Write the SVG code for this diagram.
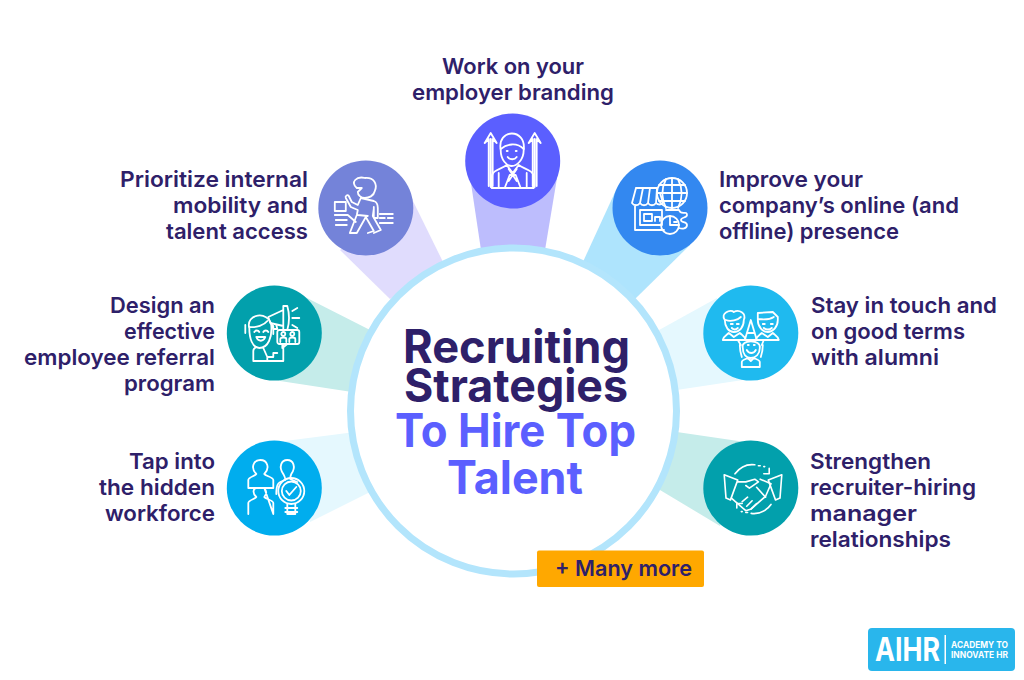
<svg xmlns="http://www.w3.org/2000/svg" width="1024" height="680" viewBox="0 0 1024 680">
<style>
text{font-family:"Inter","Noto Sans","Liberation Sans",sans-serif}
.l{font-size:22px;font-weight:600;fill:#2e2069}
.e{text-anchor:end}
.m{text-anchor:middle}
.t{font-size:46px;font-weight:700;text-anchor:middle}
.i{fill:none;stroke:#fff;stroke-width:1.8;stroke-linejoin:round;stroke-linecap:round}
</style>
<rect width="1024" height="680" fill="#fff"/>
<g id="connectors">
<polygon points="469,170 481,250 545,250 557,178" fill="#bdbdfd"/>
<polygon points="410,195 444,264 390,299 340,250" fill="#e0dcfd"/>
<polygon points="616,190 582,264 635,299 690,245" fill="#aee4fd"/>
<polygon points="305,297 372,331 352,392 280,381" fill="#c5ecea"/>
<polygon points="285,441 355,432 372,491 310,522" fill="#e5f8fe"/>
<polygon points="717,298 650,335 670,391 743,380" fill="#e5f8fe"/>
<polygon points="745,442 670,431 650,484 720,526" fill="#c5ecea"/>
</g>
<g id="center">
<circle cx="513.5" cy="411" r="163" fill="#fff" stroke="#b3e5fc" stroke-width="7"/>
<text class="t" x="516.500" y="363" fill="#2e2069" textLength="227" lengthAdjust="spacingAndGlyphs">Recruiting</text>
<text class="t" x="516" y="402" fill="#2e2069" textLength="224" lengthAdjust="spacingAndGlyphs">Strategies</text>
<text class="t" x="515.500" y="447" fill="#5b5fff" textLength="241" lengthAdjust="spacingAndGlyphs">To Hire Top</text>
<text class="t" x="515" y="494" fill="#5b5fff" textLength="136" lengthAdjust="spacingAndGlyphs">Talent</text>
</g>
<g id="node-top">
<text class="l m" x="513" y="74" textLength="142" lengthAdjust="spacingAndGlyphs">Work on your</text>
<text class="l m" x="513" y="100" textLength="202" lengthAdjust="spacingAndGlyphs">employer branding</text>
<circle cx="512.700" cy="161" r="47.500" fill="#5b5fff"/>
<g class="i" transform="translate(512.700,161)">
<path d="M-22,-22V26M-28,-18L-24,-22V25M-28,-18L-22,-28L-16,-18L-20,-22V25M22,-22V26M16,-18L20,-22V25M16,-18L22,-28L28,-18L24,-22V25"/>
<path d="M-12,-11C-16,-33 14,-33 11,-11C11,-1 4,5 -1,5C-6,5 -12,-1 -12,-11Z"/>
<path d="M-12,-12C-6,-17 4,-19 11,-12M-5,-4C-3,-1 2,-1 4,-4M-6,-10H-5M3,-10H4"/>
<path d="M-21,27V16C-21,9 -11,8 -6,4L0,12L6,4C11,8 21,9 21,16V27ZM-8,27L-3,14H3L8,27M-4,8L4,20M4,8L-4,20M-14,12V27M14,12V27"/>
</g>
</g>
<g id="node-internal">
<text class="l e" x="308" y="187" textLength="188" lengthAdjust="spacingAndGlyphs">Prioritize internal</text>
<text class="l e" x="308" y="213" textLength="135" lengthAdjust="spacingAndGlyphs">mobility and</text>
<text class="l e" x="308" y="239" textLength="142" lengthAdjust="spacingAndGlyphs">talent access</text>
<circle cx="365.800" cy="208" r="47.500" fill="#7483d9"/>
<g class="i" transform="translate(365.800,208)">
<path d="M-9,-20C-16,-26 -9,-32 -1,-30C8,-31 12,-24 9,-17C8,-12 3,-10 -1,-10C-5,-10 -8,-13 -8,-16L-4,-20Z"/>
<path d="M-5,-10L-8,-3L-14,-6L-17,-12C-18,-14 -21,-12 -20,-10L-15,-1L-8,2L-9,7L-16,25H-9L0,9L8,23L2,25M-5,-10L8,-7C11,-6 12,-3 12,0V10H8V-1M-8,7L2,8M8,1L7,8L15,22L8,25"/>
<rect x="-31" y="-6" width="11" height="9"/>
<path d="M-31,7H-18L-10,14M-30,12H-19M-30,17H-19M14,6H27M14,10H19M22,10H27M14,15H27"/>
</g>
</g>
<g id="node-online">
<text class="l" x="719" y="187" textLength="144" lengthAdjust="spacingAndGlyphs">Improve your</text>
<text class="l" x="719" y="213" textLength="240" lengthAdjust="spacingAndGlyphs">company’s online (and</text>
<text class="l" x="719" y="239" textLength="180" lengthAdjust="spacingAndGlyphs">offline) presence</text>
<circle cx="660" cy="208" r="47.500" fill="#3388f0"/>
<g class="i" transform="translate(660,208)">
<circle cx="12" cy="-15" r="15"/>
<path d="M-3,-15H27M-1,-23H25M-1,-7H25M12,-30V0M6,-29C1,-19 1,-10 6,0M18,-29C23,-19 23,-10 18,0"/>
<path d="M-24,-20H-3M-24,-20L-28,-5C-26,-2 -22,-2 -20,-5C-18,-2 -14,-2 -12,-5C-10,-2 -6,-2 -4,-5C-2,-3 1,-3 3,-5L0,-15M-17,-20L-20,-5M-10,-20L-12,-5M-3,-20L-4,-5M-25,-3V22H4M-20,2V17H2V2ZM-16,13V6H-8V13ZM-5,13V9H0V13"/>
<circle cx="10" cy="17" r="9"/>
<path d="M10,8V17H19M14,14H17M6,2H19C21,8 27,2 27,7C27,10 21,9 21,12C21,15 27,13 27,17C27,21 22,21 19,20"/>
</g>
</g>
<g id="node-referral">
<text class="l e" x="215" y="313" textLength="105" lengthAdjust="spacingAndGlyphs">Design an</text>
<text class="l e" x="215" y="339" textLength="91" lengthAdjust="spacingAndGlyphs">effective</text>
<text class="l e" x="215" y="365" textLength="191" lengthAdjust="spacingAndGlyphs">employee referral</text>
<text class="l e" x="215" y="391" textLength="91" lengthAdjust="spacingAndGlyphs">program</text>
<circle cx="274.300" cy="333" r="47.500" fill="#02a0ac"/>
<g class="i" transform="translate(274.300,333)">
<path d="M-25,-5C-29,-19 -6,-23 -3,-8C-2,4 -6,15 -15,15C-22,15 -25,5 -25,-5Z"/>
<path d="M-25,-6C-18,-5 -10,-8 -7,-12M-20,-1C-19,-3 -16,-3 -15,-1M-11,-1C-10,-3 -7,-3 -6,-1M-18,4C-16,9 -11,9 -9,4H-18ZM-29,-8V0M-1,-7V1"/>
<path d="M-21,28V18C-21,16 -20,15 -18,14M-21,28H9V11M-11,15L-7,24V28M-7,24H-1V20H3"/>
<path d="M-6,-16L9,-23V-7L-4,-10ZM9,-27H13C15,-20 15,-10 13,-3H9ZM-3,-10L-1,-4H3L2,-8M18,-15H25M18,-22L23,-25M18,-8L23,-5"/>
<rect x="3" y="-3" width="22" height="14" rx="2"/>
<path d="M6,9V6C6,4 12,4 12,6V9M15,9V6C15,4 21,4 21,6V9"/><circle cx="9" cy="1" r="2"/><circle cx="18" cy="1" r="2"/><path d="M8,11V15L13,11"/>
</g>
</g>
<g id="node-alumni">
<text class="l" x="811" y="313" textLength="186" lengthAdjust="spacingAndGlyphs">Stay in touch and</text>
<text class="l" x="811" y="339" textLength="154" lengthAdjust="spacingAndGlyphs">on good terms</text>
<text class="l" x="811" y="365" textLength="128" lengthAdjust="spacingAndGlyphs">with alumni</text>
<circle cx="750.800" cy="333" r="47.500" fill="#1fbaef"/>
<g class="i" transform="translate(750.800,333)">
<path d="M-26,-13C-31,-20 -20,-24 -17,-21C-12,-24 -4,-20 -7,-13C-7,-6 -11,-1 -17,-1C-22,-1 -26,-6 -26,-13Z"/>
<path d="M-25,-13C-20,-11 -13,-13 -10,-16M-20,-9H-18M-14,-9H-12M-19,-5C-17,-3 -15,-3 -13,-5"/>
<path d="M7,-20L22,-21L27,-16V-13C27,-6 22,-1 17,-1C12,-1 7,-6 7,-13ZM7,-14C14,-13 20,-14 23,-16M12,-9H14M20,-9H22M13,-5C15,-3 19,-3 21,-5"/>
<path d="M-28,7C-27,3 -24,2 -22,0L-17,4L-11,0C-9,2 -6,3 -5,7ZM5,7C6,3 9,2 11,0L17,4L22,0C24,2 27,3 28,7Z"/>
<path d="M-6,7L0,-13L6,7ZM-4,0H4"/>
<path d="M-8,15C-11,6 11,6 9,15C9,21 5,25 0,25C-5,25 -8,21 -8,15Z"/>
<path d="M-11,12C-11,18 -10,21 -9,24M12,12C12,18 11,21 10,24M-13,7L-10,12M13,7L11,12M-4,17C-2,21 3,21 5,17M-3,12H-2M3,12H4M-9,34V29C-9,27 -5,26 -3,25L0,28L3,25C5,26 9,27 9,29V34Z"/>
</g>
</g>
<g id="node-hidden">
<text class="l e" x="215" y="469" textLength="86" lengthAdjust="spacingAndGlyphs">Tap into</text>
<text class="l e" x="215" y="495" textLength="116" lengthAdjust="spacingAndGlyphs">the hidden</text>
<text class="l e" x="215" y="521" textLength="110" lengthAdjust="spacingAndGlyphs">workforce</text>
<circle cx="274.300" cy="488" r="47.500" fill="#00adee"/>
<g class="i" transform="translate(274.300,488)">
<path d="M-26,0V-8C-26,-11 -19,-12 -18,-14C-24,-20 -21,-28 -14,-28C-7,-28 -4,-20 -10,-14C-9,-12 -1,-11 -1,-8V0Z"/>
<path d="M-26,26V15C-26,12 -19,11 -18,9C-23,4 -20,0 -18,0M-10,0C-8,3 -7,5 -10,9C-9,11 -1,12 -1,15V26Z"/>
<path d="M2,6C2,-3 3,-6 11,-8C11,-11 10,-12 9,-14C4,-21 7,-28 13,-28C19,-28 22,-21 17,-14C16,-12 16,-11 16,-9C18,-8 20,-7 23,-6"/>
<circle cx="17" cy="3" r="13"/><circle cx="17" cy="3" r="9.500"/>
<path d="M12,3L15,7L22,-1M13,16V26H21V16M11,20H23M11,24H23"/>
</g>
</g>
<g id="node-manager">
<text class="l" x="810" y="469" textLength="121" lengthAdjust="spacingAndGlyphs">Strengthen</text>
<text class="l" x="810" y="495" textLength="166" lengthAdjust="spacingAndGlyphs">recruiter-hiring</text>
<text class="l" x="810" y="521" textLength="107" lengthAdjust="spacingAndGlyphs">manager</text>
<text class="l" x="810" y="547" textLength="141" lengthAdjust="spacingAndGlyphs">relationships</text>
<circle cx="750.800" cy="488" r="47.500" fill="#02a0ac"/>
<g class="i" transform="translate(753,490) scale(.9)">
<path d="M-32,-17L-17,-11L-25,11L-30,9ZM32,-17L17,-11L25,11L30,9Z"/>
<path d="M-17,-9L-8,-9L2,-12L6,-9L-4,-2L-8,-5M-24,9L-8,23L-2,21L14,7L20,-7L8,-12"/>
<path d="M-12,13L-6,8M-7,18L-1,12M-2,21L4,15M4,-3L14,8"/>
<path d="M-20,-18C-14,-26 -6,-29 2,-28M6,-27H8M12,-26H13M18,-24V-18H12M20,16C14,24 6,27 -2,26M-6,25H-8M-12,24H-13M-18,20V15H-12" />
</g>
</g>
<g id="more">
<rect x="537" y="550.500" width="167" height="36.500" rx="2" fill="#ffa800"/>
<text x="555" y="576" font-size="22" font-weight="600" fill="#2e2069" textLength="137" lengthAdjust="spacingAndGlyphs">+ Many more</text>
</g>
<g id="logo">
<rect x="868" y="628" width="147" height="43" rx="4" fill="#29b6ec"/>
<text x="875" y="661" font-size="33" font-weight="700" fill="#fff" textLength="65" lengthAdjust="spacingAndGlyphs">AIHR</text>
<rect x="944.500" y="635" width="1.500" height="29" fill="#fff"/>
<text x="951" y="648" font-size="9" font-weight="700" fill="#fff" textLength="57" lengthAdjust="spacingAndGlyphs">ACADEMY TO</text>
<text x="951" y="658" font-size="9" font-weight="700" fill="#fff" textLength="57" lengthAdjust="spacingAndGlyphs">INNOVATE HR</text>
</g>
</svg>
